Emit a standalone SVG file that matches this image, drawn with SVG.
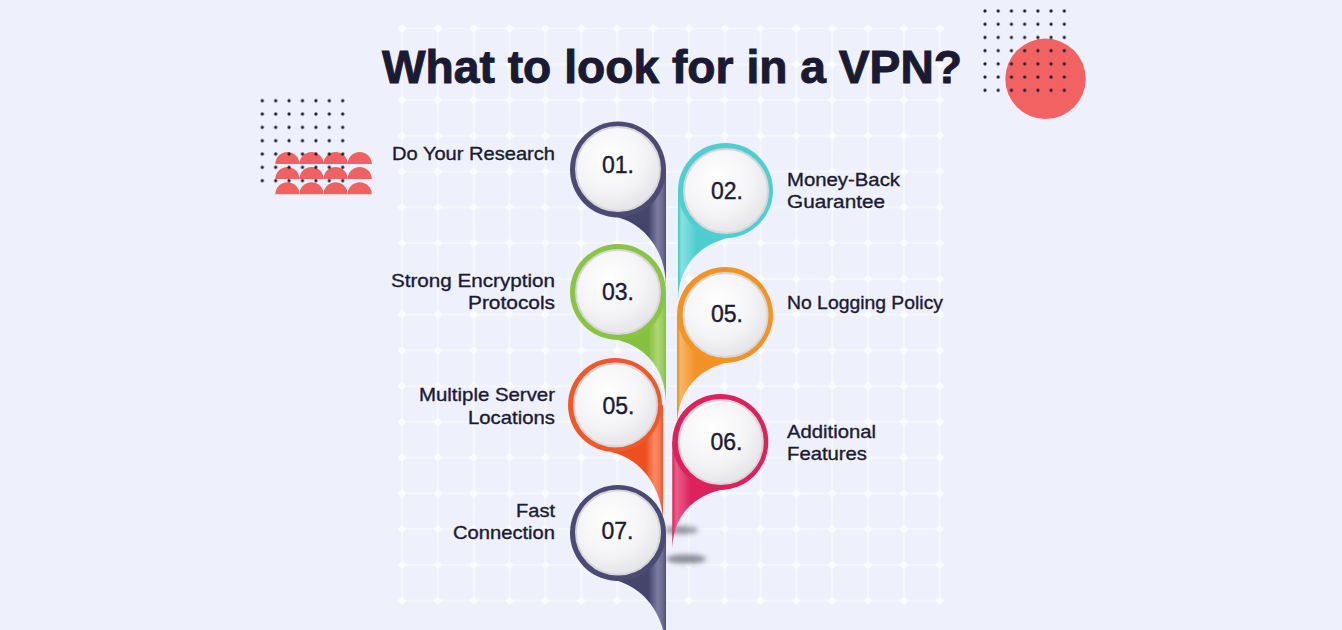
<svg xmlns="http://www.w3.org/2000/svg" width="1342" height="630" viewBox="0 0 1342 630">
<style>
.lbl{font-family:"Liberation Sans",Arial,sans-serif;font-size:18.5px;fill:#1b1b36;stroke:#1b1b36;stroke-width:0.35}
.num{font-family:"Liberation Sans",Arial,sans-serif;font-size:23px;fill:#1b1b36;stroke:#1b1b36;stroke-width:0.4;text-anchor:middle}
.title{font-family:"Liberation Sans",Arial,sans-serif;font-size:47px;font-weight:bold;fill:#1a1a33;stroke:#1a1a33;stroke-width:1}
.face{fill:url(#face);stroke:#d6d6db;stroke-width:2}
.dome{fill:#f06262}
</style>
<defs>
<pattern id="gridLines" patternUnits="userSpaceOnUse" x="384.075" y="10.62" width="35.85" height="35.76">
<path d="M0 17.88H35.85M17.925 0V35.76" stroke="#f8f9fe" stroke-width="1.6" fill="none"/>
</pattern>
<pattern id="gridDots" patternUnits="userSpaceOnUse" x="384.075" y="10.62" width="35.85" height="35.76">
<path d="M17.925 13.38L22.425 17.88L17.925 22.38L13.425 17.88Z" fill="#fbfcff"/>
</pattern>
<pattern id="dotsL" patternUnits="userSpaceOnUse" x="255.6" y="94.03" width="13.4" height="13.33">
<circle cx="6.7" cy="6.665" r="1.6" fill="#1a1a2e"/>
</pattern>
<pattern id="dotsR" patternUnits="userSpaceOnUse" x="978.39" y="4.39" width="13.22" height="13.22">
<circle cx="6.61" cy="6.61" r="1.6" fill="#1a1a2e"/>
</pattern>
<radialGradient id="face" cx="0.4" cy="0.35" r="0.7">
<stop offset="0" stop-color="#ffffff"/>
<stop offset="0.6" stop-color="#f4f4f6"/>
<stop offset="1" stop-color="#e3e3e7"/>
</radialGradient>
<linearGradient id="tNavy" x1="0" x2="1" y1="0" y2="0">
<stop offset="0" stop-color="#45446b"/><stop offset="0.66" stop-color="#45446b"/><stop offset="0.84" stop-color="#7c7ba0"/><stop offset="0.94" stop-color="#6a6990"/><stop offset="1" stop-color="#4f4e76"/>
</linearGradient>
<linearGradient id="tGreen" x1="0" x2="1" y1="0" y2="0">
<stop offset="0" stop-color="#86c040"/><stop offset="0.66" stop-color="#86c040"/><stop offset="0.84" stop-color="#aed673"/><stop offset="0.94" stop-color="#9bcc5a"/><stop offset="1" stop-color="#86c040"/>
</linearGradient>
<linearGradient id="tRed" x1="0" x2="1" y1="0" y2="0">
<stop offset="0" stop-color="#ee4f1f"/><stop offset="0.66" stop-color="#ee4f1f"/><stop offset="0.84" stop-color="#f58a63"/><stop offset="0.94" stop-color="#f3744a"/><stop offset="1" stop-color="#ee5526"/>
</linearGradient>
<linearGradient id="tCyan" x1="0" x2="1" y1="0" y2="0">
<stop offset="0" stop-color="#45c6c8"/><stop offset="0.07" stop-color="#86e0e1"/><stop offset="0.2" stop-color="#6fd8da"/><stop offset="0.36" stop-color="#4ecdcf"/><stop offset="1" stop-color="#4ecdcf"/>
</linearGradient>
<linearGradient id="tOrange" x1="0" x2="1" y1="0" y2="0">
<stop offset="0" stop-color="#ef8c1c"/><stop offset="0.07" stop-color="#f7b567"/><stop offset="0.2" stop-color="#f5a447"/><stop offset="0.36" stop-color="#f29125"/><stop offset="1" stop-color="#f29125"/>
</linearGradient>
<linearGradient id="tPink" x1="0" x2="1" y1="0" y2="0">
<stop offset="0" stop-color="#d81d57"/><stop offset="0.07" stop-color="#ea5d88"/><stop offset="0.2" stop-color="#e4457a"/><stop offset="0.36" stop-color="#dc215c"/><stop offset="1" stop-color="#dc215c"/>
</linearGradient>
<filter id="blur" x="-50%" y="-200%" width="200%" height="500%">
<feGaussianBlur stdDeviation="2.5"/>
</filter>
<path id="dome" d="M-12.05 0A12.05 12.05 0 0 1 12.05 0Z"/>
</defs>

<rect width="1342" height="630" fill="#eef0fb"/>

<g id="grid">
<rect x="401.2" y="27.7" width="539.6" height="573.8" fill="url(#gridLines)"/>
<rect x="384" y="10" width="575" height="610" fill="url(#gridDots)"/>
</g>

<g id="deco-left">
<g class="dome">
<use href="#dome" x="287.4" y="164"/><use href="#dome" x="311.5" y="164"/><use href="#dome" x="335.6" y="164"/><use href="#dome" x="359.7" y="164"/>
<use href="#dome" x="287.4" y="179"/><use href="#dome" x="311.5" y="179"/><use href="#dome" x="335.6" y="179"/><use href="#dome" x="359.7" y="179"/>
<use href="#dome" x="287.4" y="194.3"/><use href="#dome" x="311.5" y="194.3"/><use href="#dome" x="335.6" y="194.3"/><use href="#dome" x="359.7" y="194.3"/>
</g>
<rect x="255.6" y="94.03" width="93.8" height="93.31" fill="url(#dotsL)"/>
</g>

<g id="deco-right">
<circle cx="1045.5" cy="78.8" r="40.2" fill="#f26262"/>
<rect x="978.39" y="4.39" width="92.54" height="92.54" fill="url(#dotsR)"/>
</g>

<g id="title">
<text class="title" x="382" y="83" textLength="580" lengthAdjust="spacingAndGlyphs">What to look for in a VPN?</text>
</g>

<g id="connectors">
<ellipse cx="681" cy="530" rx="17" ry="4" fill="#4a4a55" opacity="0.55" filter="url(#blur)"/>
<ellipse cx="686" cy="559" rx="20" ry="4.5" fill="#4a4a55" opacity="0.6" filter="url(#blur)"/>
</g>

<g id="pin01">
<path d="M618 169.5L666 169.5L666 285C665 248 642 222 614 216.5Z" fill="url(#tNavy)"/>
<circle cx="618" cy="169.5" r="48" fill="#4b4a72"/>
<circle class="face" cx="618" cy="169" r="42"/>
<text class="num" x="618" y="172.8">01.</text>
</g>

<g id="pin02">
<path d="M725.5 190.5L678 190.5L678 300C679 263 702 244 729.5 237.5Z" fill="url(#tCyan)"/>
<circle cx="725.5" cy="190.5" r="47.5" fill="#4fcfd1"/>
<circle class="face" cx="726" cy="191" r="42"/>
<text class="num" x="727" y="199.1">02.</text>
</g>

<g id="pin03">
<path d="M618 292L666 292L666 402C665 365 642 345 614 339Z" fill="url(#tGreen)"/>
<circle cx="618" cy="292" r="48" fill="#8bc443"/>
<circle class="face" cx="618" cy="292" r="42"/>
<text class="num" x="618" y="300">03.</text>
</g>

<g id="pin05b">
<path d="M725 315L677 315L677 425C678 388 701 368 729 362Z" fill="url(#tOrange)"/>
<circle cx="725" cy="315" r="48" fill="#f29323"/>
<circle class="face" cx="725.5" cy="315" r="42"/>
<text class="num" x="727" y="321.6">05.</text>
</g>

<g id="pin05a">
<path d="M615 405L663 405L663 522C662 485 639 458 611 452Z" fill="url(#tRed)"/>
<circle cx="615" cy="405" r="47" fill="#f0582a"/>
<circle class="face" cx="615.5" cy="405" r="41.5"/>
<text class="num" x="618.5" y="414.1">05.</text>
</g>

<g id="pin06">
<path d="M720.3 442L672.3 442L672.3 549C673.3 512 697 495 724.3 489Z" fill="url(#tPink)"/>
<circle cx="720.3" cy="442" r="48" fill="#de215d"/>
<circle class="face" cx="720.8" cy="442" r="42"/>
<text class="num" x="726.5" y="450.3">06.</text>
</g>

<g id="pin07">
<path d="M618 533L666 533L666 650C665 613 642 586 614 580Z" fill="url(#tNavy)"/>
<circle cx="618" cy="533" r="48" fill="#4b4a72"/>
<circle class="face" cx="618" cy="532.5" r="42"/>
<text class="num" x="617.5" y="538.6">07.</text>
</g>

<g id="labels-left">
<text class="lbl" x="392" y="160" textLength="163" lengthAdjust="spacingAndGlyphs">Do Your Research</text>
<text class="lbl" x="391" y="287" textLength="164" lengthAdjust="spacingAndGlyphs">Strong Encryption</text>
<text class="lbl" x="468" y="309" textLength="87" lengthAdjust="spacingAndGlyphs">Protocols</text>
<text class="lbl" x="419" y="401" textLength="136" lengthAdjust="spacingAndGlyphs">Multiple Server</text>
<text class="lbl" x="468" y="424" textLength="87" lengthAdjust="spacingAndGlyphs">Locations</text>
<text class="lbl" x="516" y="517" textLength="39" lengthAdjust="spacingAndGlyphs">Fast</text>
<text class="lbl" x="453" y="539" textLength="102" lengthAdjust="spacingAndGlyphs">Connection</text>
</g>

<g id="labels-right">
<text class="lbl" x="787" y="186" textLength="113" lengthAdjust="spacingAndGlyphs">Money-Back</text>
<text class="lbl" x="787" y="208" textLength="98" lengthAdjust="spacingAndGlyphs">Guarantee</text>
<text class="lbl" x="787" y="309" textLength="156" lengthAdjust="spacingAndGlyphs">No Logging Policy</text>
<text class="lbl" x="787" y="438" textLength="89" lengthAdjust="spacingAndGlyphs">Additional</text>
<text class="lbl" x="787" y="460" textLength="80" lengthAdjust="spacingAndGlyphs">Features</text>
</g>
</svg>
